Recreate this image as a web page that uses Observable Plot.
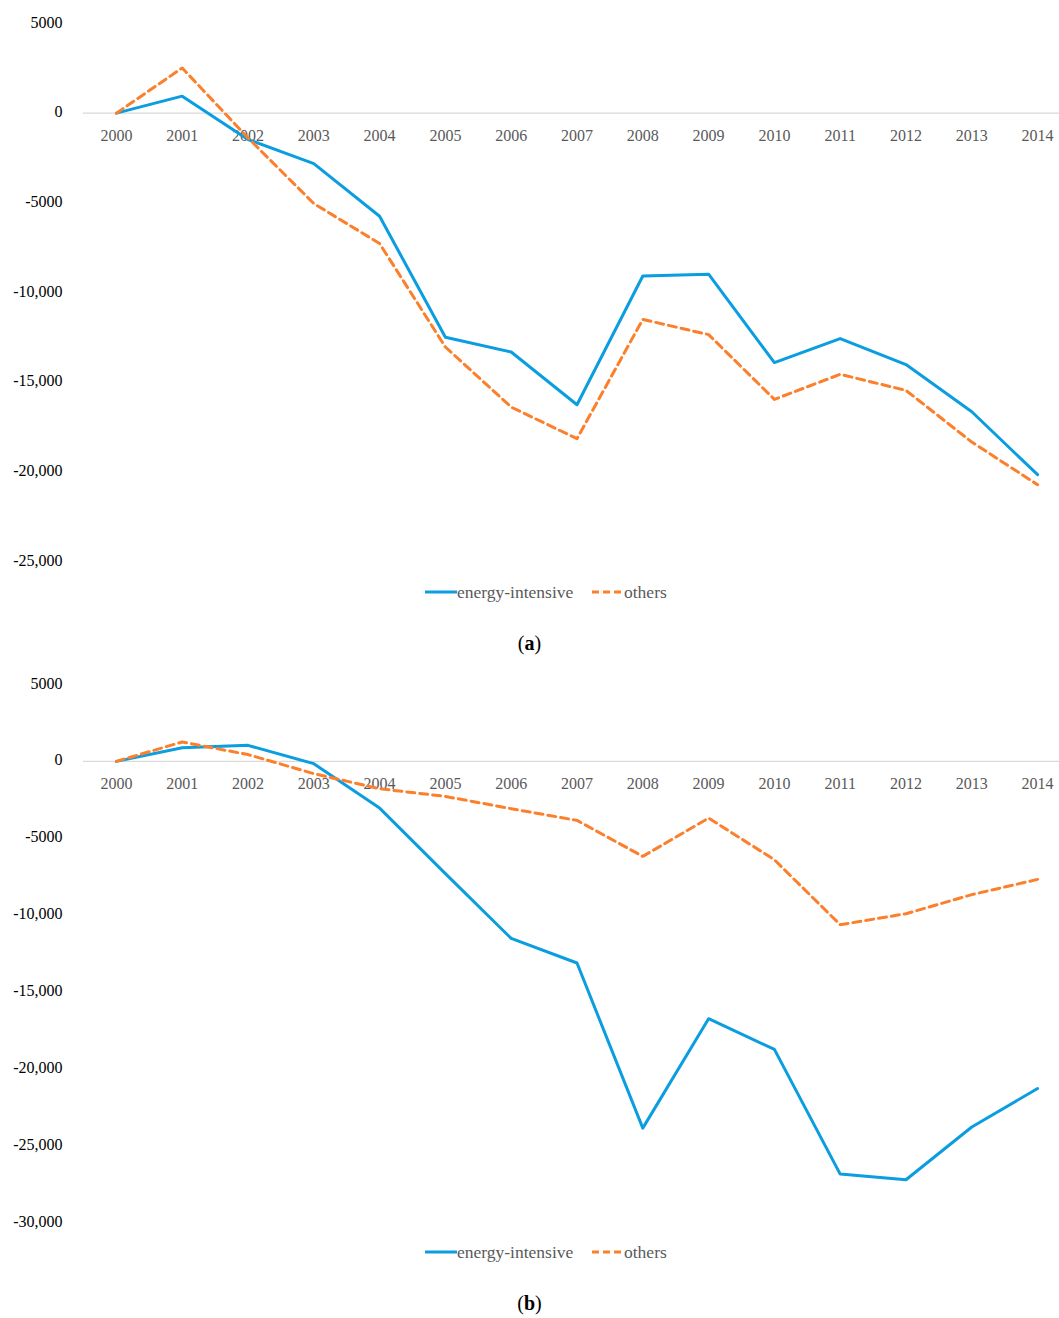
<!DOCTYPE html>
<html>
<head>
<meta charset="utf-8">
<script src="https://cdn.jsdelivr.net/npm/d3@7"></script>
<script src="https://cdn.jsdelivr.net/npm/@observablehq/plot@0.6"></script>
<style>
  html, body { margin: 0; padding: 0; background: #fff; }
  #page { position: relative; width: 1059px; height: 1318px; overflow: hidden; font-family: "Liberation Serif", "DejaVu Serif", serif; }
  .chart { position: absolute; left: 0; }
  .legend { position: absolute; left: 0; width: 1059px; height: 22px; font-size: 17.5px; color: #595959; }
  .legend .item { position: absolute; top: 0; display: flex; align-items: center; height: 22px; }
  .caption { position: absolute; left: 0; width: 1059px; text-align: center; font-size: 20px; color: #000; }
</style>
</head>
<body>
<div id="page">
  <div id="chartA" class="chart" style="top:0px"></div>
  <div class="legend" style="top:581px">
    <div class="item" style="left:425px"><svg width="32" height="6"><line x1="0" x2="32" y1="3" y2="3" stroke="#0a9de0" stroke-width="3"/></svg><span>energy-intensive</span></div>
    <div class="item" style="left:592px"><svg width="32" height="6"><line x1="0" x2="30" y1="3" y2="3" stroke="#fc7f2b" stroke-width="3" stroke-dasharray="7,4"/></svg><span>others</span></div>
  </div>
  <div class="caption" style="top:632px">(<b>a</b>)</div>
  <div id="chartB" class="chart" style="top:660px"></div>
  <div class="legend" style="top:1241px">
    <div class="item" style="left:425px"><svg width="32" height="6"><line x1="0" x2="32" y1="3" y2="3" stroke="#0a9de0" stroke-width="3"/></svg><span>energy-intensive</span></div>
    <div class="item" style="left:592px"><svg width="32" height="6"><line x1="0" x2="30" y1="3" y2="3" stroke="#fc7f2b" stroke-width="3" stroke-dasharray="7,4"/></svg><span>others</span></div>
  </div>
  <div class="caption" style="top:1292px">(<b>b</b>)</div>
</div>
<script>
const years = [2000, 2001, 2002, 2003, 2004, 2005, 2006, 2007, 2008, 2009, 2010, 2011, 2012, 2013, 2014];

// Panel (a)
const energyA = [0, 950, -1470, -2810, -5750, -12500, -13320, -16260, -9080, -8980, -13910, -12570, -14020, -16650, -20160];
const othersA = [0, 2520, -1380, -5040, -7270, -13040, -16390, -18150, -11500, -12350, -15960, -14560, -15460, -18340, -20720];
const ticksA = [5000, 0, -5000, -10000, -15000, -20000, -25000];

// Panel (b)
const energyB = [0, 890, 1040, -150, -3040, -7300, -11520, -13120, -23860, -16740, -18740, -26850, -27220, -23790, -21280];
const othersB = [0, 1260, 440, -800, -1780, -2280, -3080, -3840, -6180, -3690, -6400, -10630, -9910, -8670, -7680];
const ticksB = [5000, 0, -5000, -10000, -15000, -20000, -25000, -30000];

const BLUE = "#0a9de0";
const ORANGE = "#fc7f2b";

function fmt(v) {
  const a = Math.abs(v);
  const s = a >= 10000 ? d3.format(",")(a) : String(a);
  return (v < 0 ? "-" : "") + s;
}

function makeChart(energy, others, ticks, height, marginTop, marginBottom) {
  const rowsE = years.map((y, i) => ({year: y, value: energy[i]}));
  const rowsO = years.map((y, i) => ({year: y, value: others[i]}));
  return Plot.plot({
    width: 1059,
    height: height,
    marginLeft: 83,
    marginRight: 0,
    marginTop: marginTop,
    marginBottom: marginBottom,
    style: {fontFamily: "Liberation Serif, DejaVu Serif, serif", fontSize: "16px", background: "#fff", overflow: "visible"},
    x: {domain: [1999.5, 2014.333], axis: null},
    y: {domain: [ticks[ticks.length - 1], ticks[0]], ticks: ticks, tickFormat: fmt},
    marks: [
      Plot.axisY({ticks: ticks, tickFormat: fmt, tickSize: 0, tickPadding: 21, label: null, fill: "#000", dy: -1}),
      Plot.ruleY([0], {stroke: "#d9d9d9", strokeWidth: 1.3}),
      Plot.text(years, {x: d => d, y: 0, dy: 23, text: d => String(d), fill: "#595959", fontSize: 16}),
      Plot.line(rowsE, {x: "year", y: "value", stroke: BLUE, strokeWidth: 3, strokeLinejoin: "round"}),
      Plot.line(rowsO, {x: "year", y: "value", stroke: ORANGE, strokeWidth: 3, strokeDasharray: "8,5", strokeLinejoin: "round"})
    ]
  });
}

document.getElementById("chartA").append(makeChart(energyA, othersA, ticksA, 575, 23, 14));
document.getElementById("chartB").append(makeChart(energyB, othersB, ticksB, 575, 24, 13));
</script>
</body>
</html>
